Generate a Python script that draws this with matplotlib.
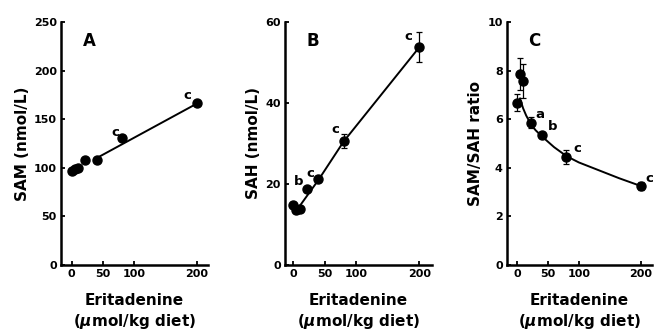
import numpy as np
import matplotlib
matplotlib.use('Agg')
import matplotlib.pyplot as plt

plt.rcParams['font.family'] = ['DejaVu Sans']
plt.rcParams['font.weight'] = 'bold'
plt.rcParams['mathtext.fontset'] = 'dejavusans'

# doses (umol/kg diet)
dose = [0, 5, 10, 22, 40, 80, 200]

# panel A: SAM (nmol/L)
sam = [97, 99, 100, 108, 108.5, 130.5, 167]
sam_err = [2, 2, 2, 2, 2, 3, 2]
sam_fit_x = [40, 200]
sam_fit_y = [110, 166]

# panel B: SAH (nmol/L)
sah = [14.8, 13.6, 13.9, 18.7, 21.2, 30.7, 53.8]
sah_err = [0.8, 0.7, 0.7, 0.6, 0.8, 1.7, 3.8]
sah_fit_x = [10, 40, 80, 200]
sah_fit_y = [14.5, 21.0, 30.5, 53.8]

# panel C: SAM/SAH ratio
ratio = [6.68, 7.85, 7.57, 5.86, 5.34, 4.44, 3.25]
ratio_err = [0.35, 0.65, 0.7, 0.22, 0.1, 0.3, 0.15]
ratio_fit_x = [5, 10, 15, 22, 30, 40, 60, 80, 100, 130, 165, 200]
ratio_fit_y = [6.85, 6.45, 6.15, 5.82, 5.55, 5.3, 4.85, 4.48, 4.22, 3.92, 3.57, 3.25]

panels = [
    dict(pos=[0.0933, 0.197, 0.2248, 0.7364], y=sam, err=sam_err,
         fx=sam_fit_x, fy=sam_fit_y, ylim=250, yticks=[0, 50, 100, 150, 200, 250],
         ylabel='SAM (nmol/L)', letter='A', xlim=(-17, 218),
         marks=[('c', 69, 136), ('c', 185, 174)]),
    dict(pos=[0.4358, 0.197, 0.2248, 0.7364], y=sah, err=sah_err,
         fx=sah_fit_x, fy=sah_fit_y, ylim=60, yticks=[0, 20, 40, 60],
         ylabel='SAH (nmol/L)', letter='B', xlim=(-13, 220),
         marks=[('b', 9, 20.5), ('c', 27, 22.6), ('c', 66, 33.5), ('c', 183, 56.3)]),
    dict(pos=[0.7752, 0.197, 0.2217, 0.7364], y=ratio, err=ratio_err,
         fx=ratio_fit_x, fy=ratio_fit_y, ylim=10, yticks=[0, 2, 4, 6, 8, 10],
         ylabel='SAM/SAH ratio', letter='C', xlim=(-16, 218),
         marks=[('a', 37, 6.2), ('b', 57, 5.7), ('c', 97, 4.8), ('c', 214, 3.55)]),
]

fig = plt.figure(figsize=(6.54, 3.30), dpi=100)

for p in panels:
    ax = fig.add_axes(p['pos'])
    ax.plot(p['fx'], p['fy'], color='black', lw=1.4, zorder=2)
    ax.errorbar(dose, p['y'], yerr=p['err'], fmt='o', color='black',
                ms=6.5, capsize=2.5, elinewidth=0.9, capthick=0.9, zorder=3)
    for t, x, y in p['marks']:
        ax.text(x, y, t, ha='center', va='center', fontsize=9.5, fontweight='bold')
    ax.text(0.19, 0.92, p['letter'], transform=ax.transAxes, ha='center',
            va='center', fontsize=12, fontweight='bold')

    ax.set_xlim(*p['xlim'])
    ax.set_ylim(0, p['ylim'])
    ax.set_xticks([0, 50, 100, 200])
    ax.set_yticks(p['yticks'])
    ax.spines['top'].set_visible(False)
    ax.spines['right'].set_visible(False)
    for s in ('left', 'bottom'):
        ax.spines[s].set_linewidth(1.8)
    ax.tick_params(direction='in', length=3, width=1.3, labelsize=8, pad=3)
    for lab in ax.get_xticklabels() + ax.get_yticklabels():
        lab.set_fontweight('bold')
    ax.set_ylabel(p['ylabel'], fontsize=11, fontweight='bold', labelpad=3)
    ax.set_xlabel('Eritadenine\n($\\mu$mol/kg diet)', fontsize=11,
                  fontweight='bold', labelpad=10, linespacing=1.3)

fig.savefig('out.png', dpi=100, facecolor='white')
